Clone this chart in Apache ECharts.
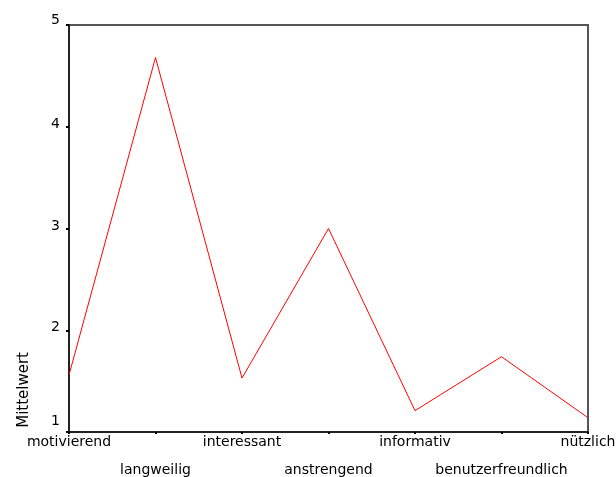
<!DOCTYPE html>
<html><head><meta charset="utf-8">
<script src="https://cdn.jsdelivr.net/npm/echarts@6/dist/echarts.min.js"></script>
<style>html,body{margin:0;padding:0;background:#fff}#c{width:616px;height:477px}</style>
</head><body><div id="c"></div>
<script>
const categories = ['motivierend','langweilig','interessant','anstrengend','informativ','benutzerfreundlich','nützlich'];
const values = [1.56, 4.68, 1.53, 3.00, 1.21, 1.74, 1.14];
const yTicks = [1, 2, 3, 4, 5];
const yName = 'Mittelwert';
const font = 'DejaVu Sans';

const chart = echarts.init(document.getElementById('c'));
chart.setOption({
  animation: false,
  grid: { left: 69, right: 28, top: 25, bottom: 45, outerBoundsMode: 'none', containLabel: false, show: true, borderColor: '#555', borderWidth: 2, backgroundColor: 'transparent' },
  xAxis: {
    type: 'category', data: categories, boundaryGap: false,
    axisLine: { lineStyle: { color: '#222', width: 2 } },
    axisTick: { show: true, alignWithLabel: true, length: 2, inside: false, lineStyle: { color: '#000', width: 2 } },
    axisLabel: {
      interval: 0, color: '#000', fontFamily: font, fontSize: 14, margin: 3, lineHeight: 14,
      formatter: (v, i) => (i % 2 ? '\n\n' + v : v)
    },
    splitLine: { show: false }
  },
  yAxis: {
    type: 'value', min: yTicks[0], max: yTicks[yTicks.length - 1], interval: 1,
    axisLine: { show: true, lineStyle: { color: '#222', width: 2 } },
    axisTick: { show: true, length: 3, lineStyle: { color: '#000', width: 2 } },
    axisLabel: {
      color: '#000', fontFamily: font, fontSize: 14, margin: 9,
      formatter: v => (v === 1 ? '{b|' + v + '}' : v === 5 ? '{t|' + v + '}' : '{m|' + v + '}'),
      rich: {
        b: { fontFamily: font, fontSize: 14, padding: [0, 0, 22, 0] },
        t: { fontFamily: font, fontSize: 14, padding: [0, 0, 9, 0] },
        m: { fontFamily: font, fontSize: 14, padding: [0, 0, 5, 0] }
      }
    },
    splitLine: { show: false }
  },
  graphic: [{
    type: 'text', left: 17, top: 352, rotation: Math.PI / 2,
    style: { text: yName, fontFamily: font, fontSize: 15, fill: '#000' }
  }],
  series: [{
    type: 'line', data: values, symbol: 'none',
    lineStyle: { color: '#ff0000', width: 1 }
  }]
});
</script></body></html>
